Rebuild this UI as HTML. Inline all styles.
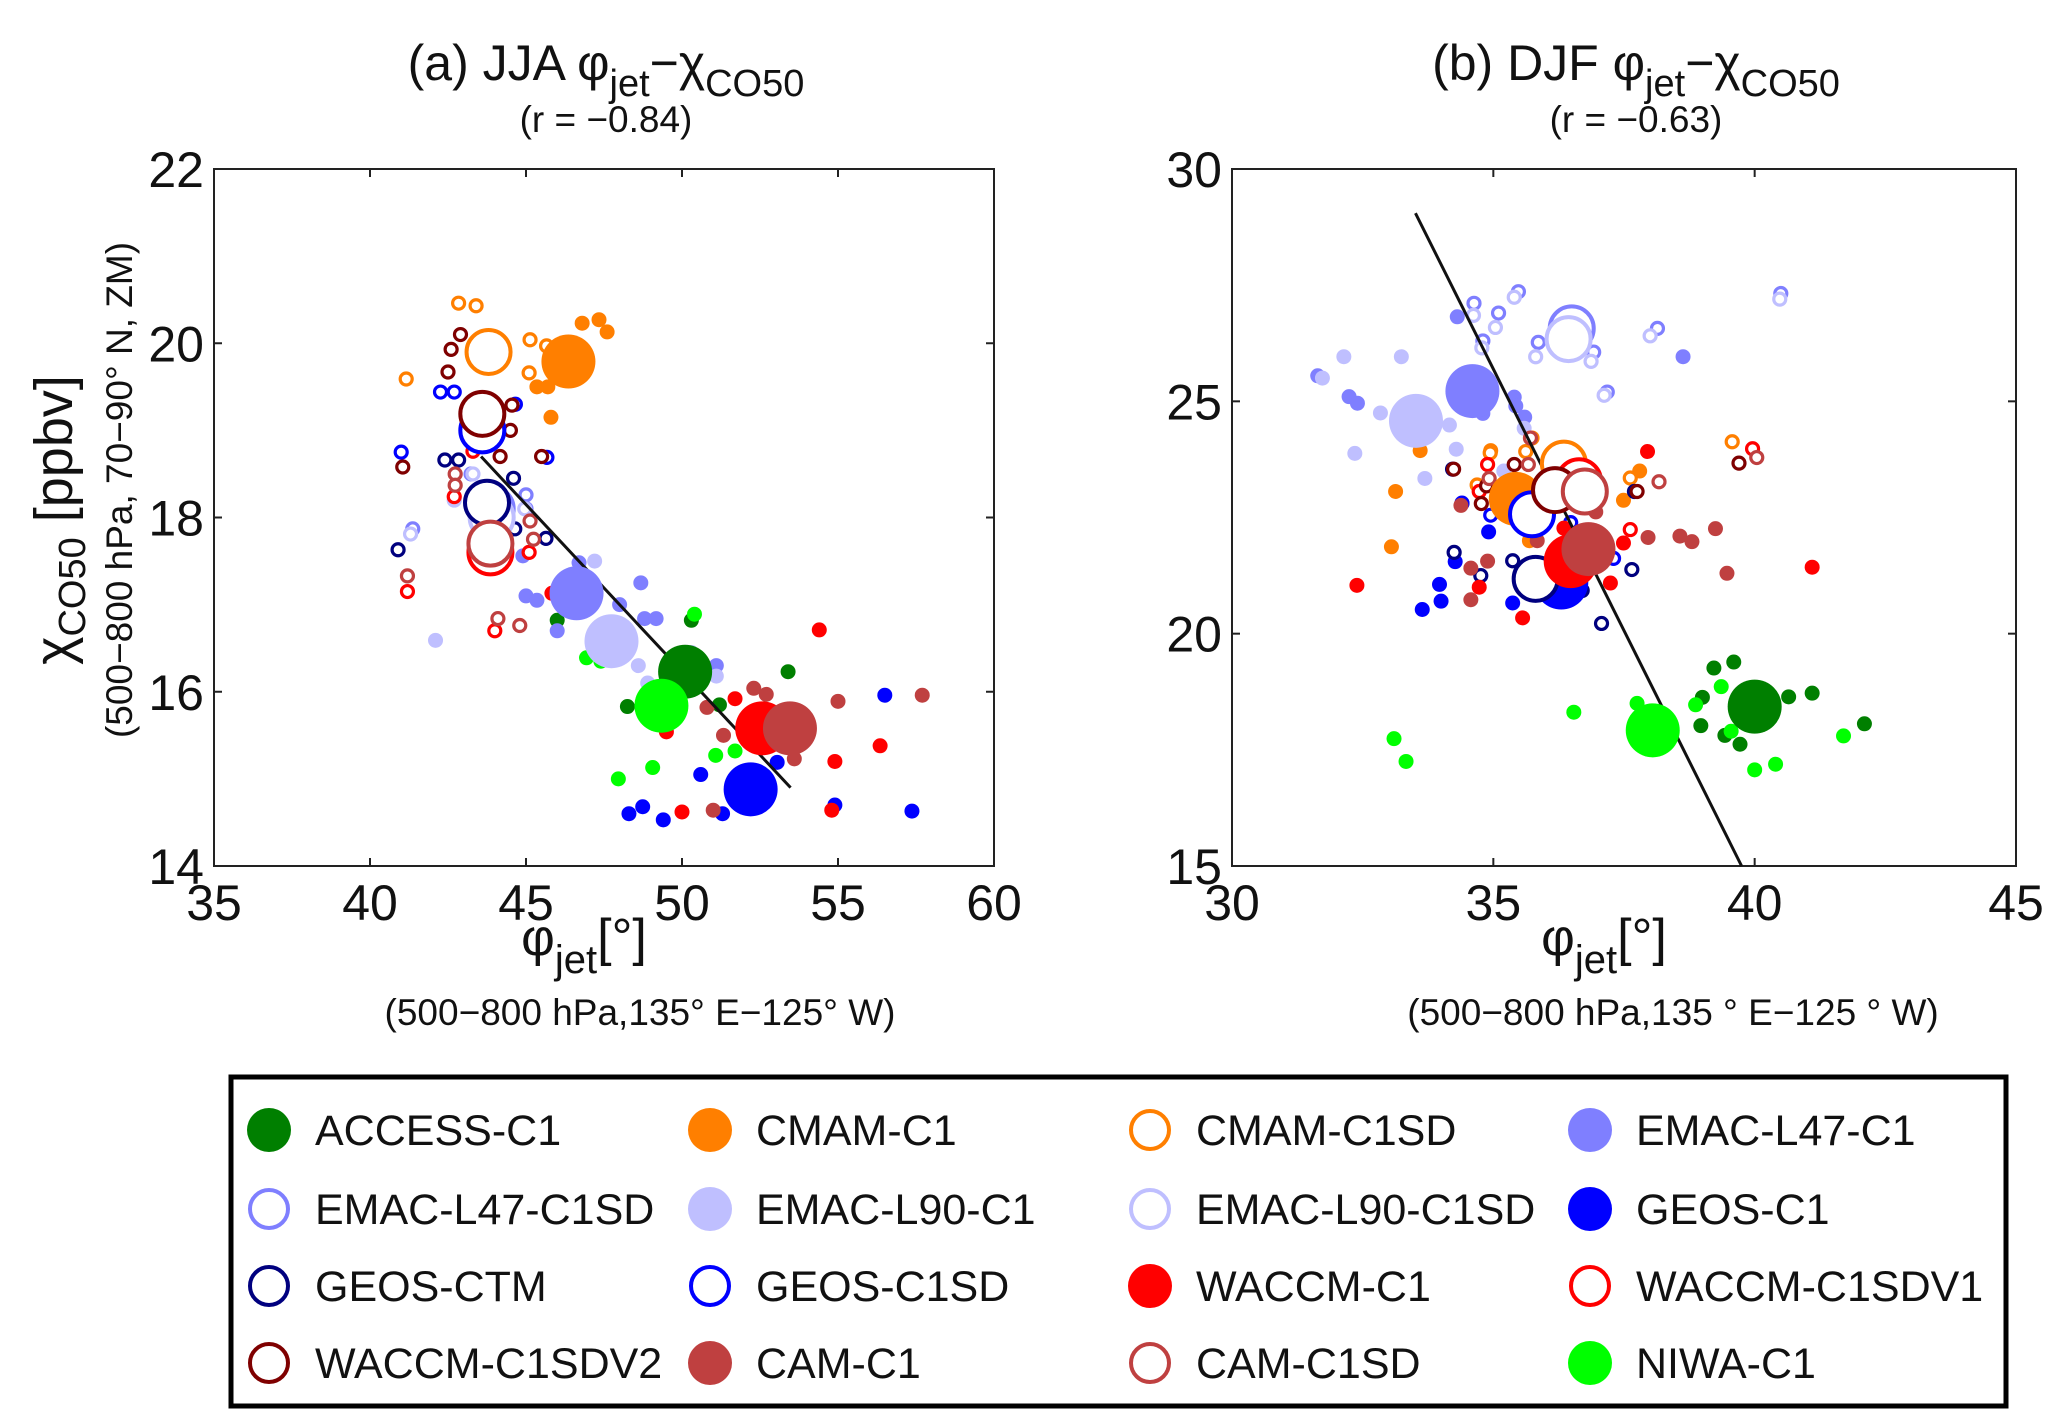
<!DOCTYPE html>
<html><head><meta charset="utf-8"><style>
body{margin:0;background:#fff;}
svg{display:block;font-family:"Liberation Sans",sans-serif;}
</style></head><body>
<svg id="fig" width="2067" height="1427" viewBox="0 0 2067 1427" xmlns="http://www.w3.org/2000/svg"></svg>
<script>
// Panel (a) JJA data — first point of each series is the multi-model mean (large marker)
const ACCESS_C1_A=[[50.1,16.23],[46.0,16.82],[48.25,15.83],[50.3,16.82],[51.2,15.85],[53.4,16.23]];
const CMAM_C1_A=[[46.36,19.79],[46.8,20.23],[47.34,20.27],[47.6,20.13],[45.8,19.15],[45.35,19.5],[45.7,19.5]];
const CMAM_C1SD_A=[[43.8,19.9],[42.84,20.46],[43.4,20.43],[41.16,19.59],[45.13,20.04],[45.1,19.66],[45.66,19.97]];
const EMAC_L47_C1_A=[[46.62,17.13],[46.7,17.48],[45.0,17.1],[45.35,17.05],[46.0,16.7],[48.0,17.0],[48.68,17.25],[48.8,16.84],[49.17,16.84],[51.1,16.3],[44.9,17.56]];
const EMAC_L47_C1SD_A=[[43.9,18.1],[41.37,17.87],[43.24,18.5],[45.0,18.26],[45.0,18.1],[43.3,18.2]];
const EMAC_L90_C1_A=[[47.74,16.58],[42.1,16.59],[47.2,17.5],[48.6,16.3],[48.9,16.1],[50.3,16.45],[51.1,16.18]];
const EMAC_L90_C1SD_A=[[43.9,18.0],[41.3,17.81],[42.7,18.2],[44.96,18.1],[43.3,18.5]];
const GEOS_C1_A=[[52.2,14.88],[48.3,14.6],[48.74,14.68],[49.4,14.53],[50.6,15.05],[51.3,14.6],[53.05,15.19],[54.9,14.7],[56.5,15.96],[57.37,14.63]];
const GEOS_CTM_A=[[43.75,18.17],[40.9,17.63],[42.4,18.66],[42.84,18.66],[44.6,18.45],[45.64,17.76],[44.64,17.87]];
const GEOS_C1SD_A=[[43.6,19.0],[41.0,18.75],[42.26,19.44],[42.7,19.44],[44.66,19.3],[45.67,18.69]];
const WACCM_C1_A=[[52.57,15.58],[54.4,16.71],[51.7,15.92],[49.5,15.54],[50.0,14.62],[54.9,15.2],[56.35,15.38],[54.8,14.64],[45.83,17.13]];
const WACCM_C1SDV1_A=[[43.86,17.6],[41.2,17.15],[44.0,16.7],[42.7,18.24],[45.1,17.6],[43.3,18.76]];
const WACCM_C1SDV2_A=[[43.6,19.19],[42.9,20.1],[42.6,19.93],[42.5,19.67],[41.05,18.58],[44.55,19.29],[44.5,19.0],[44.17,18.7],[45.5,18.7]];
const CAM_C1_A=[[53.46,15.58],[52.3,16.04],[52.7,15.97],[50.8,15.82],[51.33,15.5],[53.6,15.23],[55.0,15.89],[57.7,15.96],[51.0,14.64]];
const CAM_C1SD_A=[[43.86,17.7],[41.2,17.33],[42.73,18.5],[42.73,18.37],[44.1,16.84],[44.8,16.76],[45.24,17.75],[45.13,17.96]];
const NIWA_C1_A=[[49.34,15.84],[50.4,16.89],[46.94,16.39],[47.4,16.35],[47.96,15.0],[49.06,15.13],[51.08,15.27],[51.7,15.32]];
const FIT_A=[[43.56,18.7],[53.48,14.9]];
// Panel (b) DJF data
const ACCESS_C1_B=[[40.0,18.43],[39.22,19.26],[39.6,19.39],[39.0,18.63],[40.65,18.64],[41.1,18.72],[42.1,18.06],[38.97,18.02],[39.43,17.81],[39.72,17.62]];
const CMAM_C1_B=[[35.43,22.9],[33.6,23.94],[33.13,23.06],[33.05,21.87],[34.95,23.94],[35.69,22.0],[37.49,22.87],[37.8,23.5]];
const CMAM_C1SD_B=[[36.35,23.66],[34.69,23.2],[34.94,23.89],[35.74,24.21],[35.62,23.92],[37.62,23.35],[39.57,24.13]];
const EMAC_L47_C1_B=[[34.6,25.22],[31.64,25.55],[32.24,25.1],[32.4,24.96],[34.31,26.82],[34.8,24.74],[35.4,25.09],[35.6,24.66],[38.63,25.96],[35.43,24.9]];
const EMAC_L47_C1SD_B=[[36.5,26.57],[34.63,27.11],[35.1,26.9],[35.48,27.36],[34.8,26.3],[38.14,26.57],[40.5,27.32],[37.18,25.2],[35.86,26.27],[36.92,26.06]];
const EMAC_L90_C1_B=[[33.52,24.58],[31.73,25.5],[32.14,25.96],[33.24,25.96],[32.84,24.75],[34.16,24.49],[34.29,23.97],[33.69,23.34],[32.35,23.88],[35.59,24.42],[35.2,23.5]];
const EMAC_L90_C1SD_B=[[36.44,26.34],[34.62,26.85],[35.04,26.59],[35.4,27.24],[34.78,26.15],[35.81,25.96],[36.87,25.86],[38.0,26.41],[40.48,27.2],[37.12,25.13]];
const GEOS_C1_B=[[36.3,21.1],[34.91,22.19],[34.27,21.55],[33.97,21.06],[34.0,20.7],[33.64,20.52],[35.37,20.66],[36.22,21.12],[34.4,22.8]];
const GEOS_CTM_B=[[35.81,21.18],[34.25,21.75],[34.76,21.25],[35.37,21.57],[36.7,20.93],[37.07,20.22],[37.65,21.38],[34.22,23.54],[37.7,23.06]];
const GEOS_C1SD_B=[[35.74,22.57],[34.95,22.55],[36.48,22.39],[37.3,21.62],[34.4,22.81]];
const WACCM_C1_B=[[36.48,21.56],[32.39,21.04],[35.56,20.34],[34.73,21.0],[36.35,22.27],[37.24,21.09],[37.49,21.95],[37.95,23.92],[41.1,21.43],[36.35,20.73]];
const WACCM_C1SDV1_B=[[36.64,23.28],[34.89,23.64],[34.73,23.06],[37.62,22.24],[39.96,23.98]];
const WACCM_C1SDV2_B=[[36.18,23.09],[34.24,23.54],[34.87,23.18],[35.4,23.64],[34.77,22.8],[37.75,23.06],[39.7,23.67]];
const CAM_C1_B=[[36.82,21.82],[34.38,22.76],[34.57,21.41],[34.89,21.56],[34.57,20.73],[35.84,22.0],[37.96,22.07],[38.57,22.1],[38.8,21.98],[39.25,22.26],[39.47,21.3],[36.96,22.62]];
const CAM_C1SD_B=[[36.75,23.06],[34.92,23.34],[35.67,23.64],[38.17,23.27],[40.04,23.79],[35.71,24.21]];
const NIWA_C1_B=[[38.05,17.92],[33.1,17.74],[33.33,17.25],[36.54,18.31],[37.75,18.5],[38.87,18.47],[39.36,18.86],[39.55,17.9],[40.0,17.07],[40.4,17.19],[41.7,17.8]];
const FIT_B=[[33.51,29.05],[39.75,15.0]];

const xTicksA=[35,40,45,50,55,60], yTicksA=[14,16,18,20,22];
const xTicksB=[30,35,40,45], yTicksB=[15,20,25,30];

const MODELS=[
 {name:"ACCESS-C1",color:"#007f00",open:false,a:ACCESS_C1_A,b:ACCESS_C1_B},
 {name:"CMAM-C1",color:"#ff7f00",open:false,a:CMAM_C1_A,b:CMAM_C1_B},
 {name:"CMAM-C1SD",color:"#ff7f00",open:true,a:CMAM_C1SD_A,b:CMAM_C1SD_B},
 {name:"EMAC-L47-C1",color:"#7f7fff",open:false,a:EMAC_L47_C1_A,b:EMAC_L47_C1_B},
 {name:"EMAC-L47-C1SD",color:"#7f7fff",open:true,a:EMAC_L47_C1SD_A,b:EMAC_L47_C1SD_B},
 {name:"EMAC-L90-C1",color:"#bfbfff",open:false,a:EMAC_L90_C1_A,b:EMAC_L90_C1_B},
 {name:"EMAC-L90-C1SD",color:"#bfbfff",open:true,a:EMAC_L90_C1SD_A,b:EMAC_L90_C1SD_B},
 {name:"GEOS-C1",color:"#0000ff",open:false,a:GEOS_C1_A,b:GEOS_C1_B},
 {name:"GEOS-CTM",color:"#00007f",open:true,a:GEOS_CTM_A,b:GEOS_CTM_B},
 {name:"GEOS-C1SD",color:"#0000ff",open:true,a:GEOS_C1SD_A,b:GEOS_C1SD_B},
 {name:"WACCM-C1",color:"#ff0000",open:false,a:WACCM_C1_A,b:WACCM_C1_B},
 {name:"WACCM-C1SDV1",color:"#ff0000",open:true,a:WACCM_C1SDV1_A,b:WACCM_C1SDV1_B},
 {name:"WACCM-C1SDV2",color:"#7f0000",open:true,a:WACCM_C1SDV2_A,b:WACCM_C1SDV2_B},
 {name:"CAM-C1",color:"#bf4040",open:false,a:CAM_C1_A,b:CAM_C1_B},
 {name:"CAM-C1SD",color:"#bf4040",open:true,a:CAM_C1SD_A,b:CAM_C1SD_B},
 {name:"NIWA-C1",color:"#00ff00",open:false,a:NIWA_C1_A,b:NIWA_C1_B}
];

const NS="http://www.w3.org/2000/svg";
const svg=document.getElementById('fig');
function mk(tag,attrs,parent){const e=document.createElementNS(NS,tag);for(const k in attrs)e.setAttribute(k,attrs[k]);(parent||svg).appendChild(e);return e;}

function panel(key,L,R,T,B,xmin,xmax,ymin,ymax,xt,yt,fit,title,rtxt,cx,subCx){
  const g=mk('g',{});
  
  
  const sx=v=>L+(v-xmin)/(xmax-xmin)*(R-L);
  const sy=v=>B-(v-ymin)/(ymax-ymin)*(B-T);
  const frame=mk('rect',{x:L,y:T,width:R-L,height:B-T,fill:'#fff',stroke:'#222','stroke-width':2},g);
  
  
  xt.forEach(v=>{
    mk('line',{x1:sx(v),x2:sx(v),y1:B,y2:B-8,stroke:'#222','stroke-width':2},g);
    mk('line',{x1:sx(v),x2:sx(v),y1:T,y2:T+8,stroke:'#222','stroke-width':2},g);
    const t=mk('text',{x:sx(v),y:B+54,'font-size':50,'text-anchor':'middle',fill:'#111'},g);
    t.textContent=v;
    
    
  });
  yt.forEach(v=>{
    mk('line',{x1:L,x2:L+8,y1:sy(v),y2:sy(v),stroke:'#222','stroke-width':2},g);
    mk('line',{x1:R,x2:R-8,y1:sy(v),y2:sy(v),stroke:'#222','stroke-width':2},g);
    const t=mk('text',{x:L-10,y:sy(v)+18,'font-size':50,'text-anchor':'end',fill:'#111'},g);
    t.textContent=v;
    
    
  });
  MODELS.forEach(m=>{
    const pts=m[key];
    pts.slice(1).forEach(p=>{
      const c=mk('circle',{cx:sx(p[0]),cy:sy(p[1]),r:m.open?6:7.5,fill:m.open?'#fff':m.color,stroke:m.open?m.color:'none','stroke-width':3.2},g);
      
      
    });
  });
  const ln=mk('line',{x1:sx(fit[0][0]),y1:sy(fit[0][1]),x2:sx(fit[1][0]),y2:sy(fit[1][1]),stroke:'#111','stroke-width':3},g);
  
  
  MODELS.forEach(m=>{
    const p=m[key][0];
    const c=mk('circle',{cx:sx(p[0]),cy:sy(p[1]),r:m.open?22:27,fill:m.open?'#fff':m.color,stroke:m.open?m.color:'none','stroke-width':4},g);
    
    
  });
  const tt=mk('text',{x:cx,y:80,'font-size':50,'text-anchor':'middle',fill:'#111'},g);
  tt.innerHTML=title;
  
  
  const rt=mk('text',{x:cx,y:132,'font-size':37,'text-anchor':'middle',fill:'#111'},g);
  rt.textContent=rtxt;
  
  
  const xl=mk('text',{x:(L+R)/2-20,y:955,'font-size':52,'text-anchor':'middle',fill:'#111'},g);
  xl.innerHTML='φ<tspan font-size="40" dy="18">jet</tspan><tspan dy="-18">[°]</tspan>';
  
  
  const xs=mk('text',{x:subCx,y:1025,'font-size':37,'text-anchor':'middle',fill:'#111'},g);
  xs.textContent=key==='a'?'(500−800 hPa,135° E−125° W)':'(500−800 hPa,135 ° E−125 ° W)';
  
  
}
panel('a',214,994,169,866,35,60,14,22,xTicksA,yTicksA,FIT_A,'(a) JJA φ<tspan font-size="38" dy="16">jet</tspan><tspan dy="-16">−χ</tspan><tspan font-size="38" dy="16">CO50</tspan>','(r = −0.84)',606,640);
panel('b',1232,2016,169,866,30,45,15,30,xTicksB,yTicksB,FIT_B,'(b) DJF φ<tspan font-size="38" dy="16">jet</tspan><tspan dy="-16">−χ</tspan><tspan font-size="38" dy="16">CO50</tspan>','(r = −0.63)',1636,1673);

const yl=mk('text',{x:0,y:0,'font-size':54,'text-anchor':'middle',fill:'#111',transform:'translate(72,520) rotate(-90)'});
yl.innerHTML='χ<tspan font-size="38" dy="13">CO50</tspan><tspan dy="-13"> [ppbv]</tspan>';


const ys=mk('text',{x:0,y:0,'font-size':37,'text-anchor':'middle',fill:'#111',transform:'translate(132,490) rotate(-90)'});
ys.textContent='(500−800 hPa, 70−90° N, ZM)';



const lg=mk('g',{});


mk('rect',{x:231,y:1077,width:1775,height:329,fill:'#fff',stroke:'#000','stroke-width':5},lg);
const colX=[269,710,1150,1590], rowY=[1130,1209,1286,1363];
MODELS.forEach((m,i)=>{
  const cx=colX[i%4], cy=rowY[Math.floor(i/4)];
  const e=mk('g',{},lg);
  
  
  mk('circle',{cx:cx,cy:cy,r:m.open?19:22,fill:m.open?'#fff':m.color,stroke:m.open?m.color:'none','stroke-width':4},e);
  const t=mk('text',{x:cx+46,y:cy+15,'font-size':43,fill:'#111'},e);
  t.textContent=m.name;
});
</script>
</body></html>
